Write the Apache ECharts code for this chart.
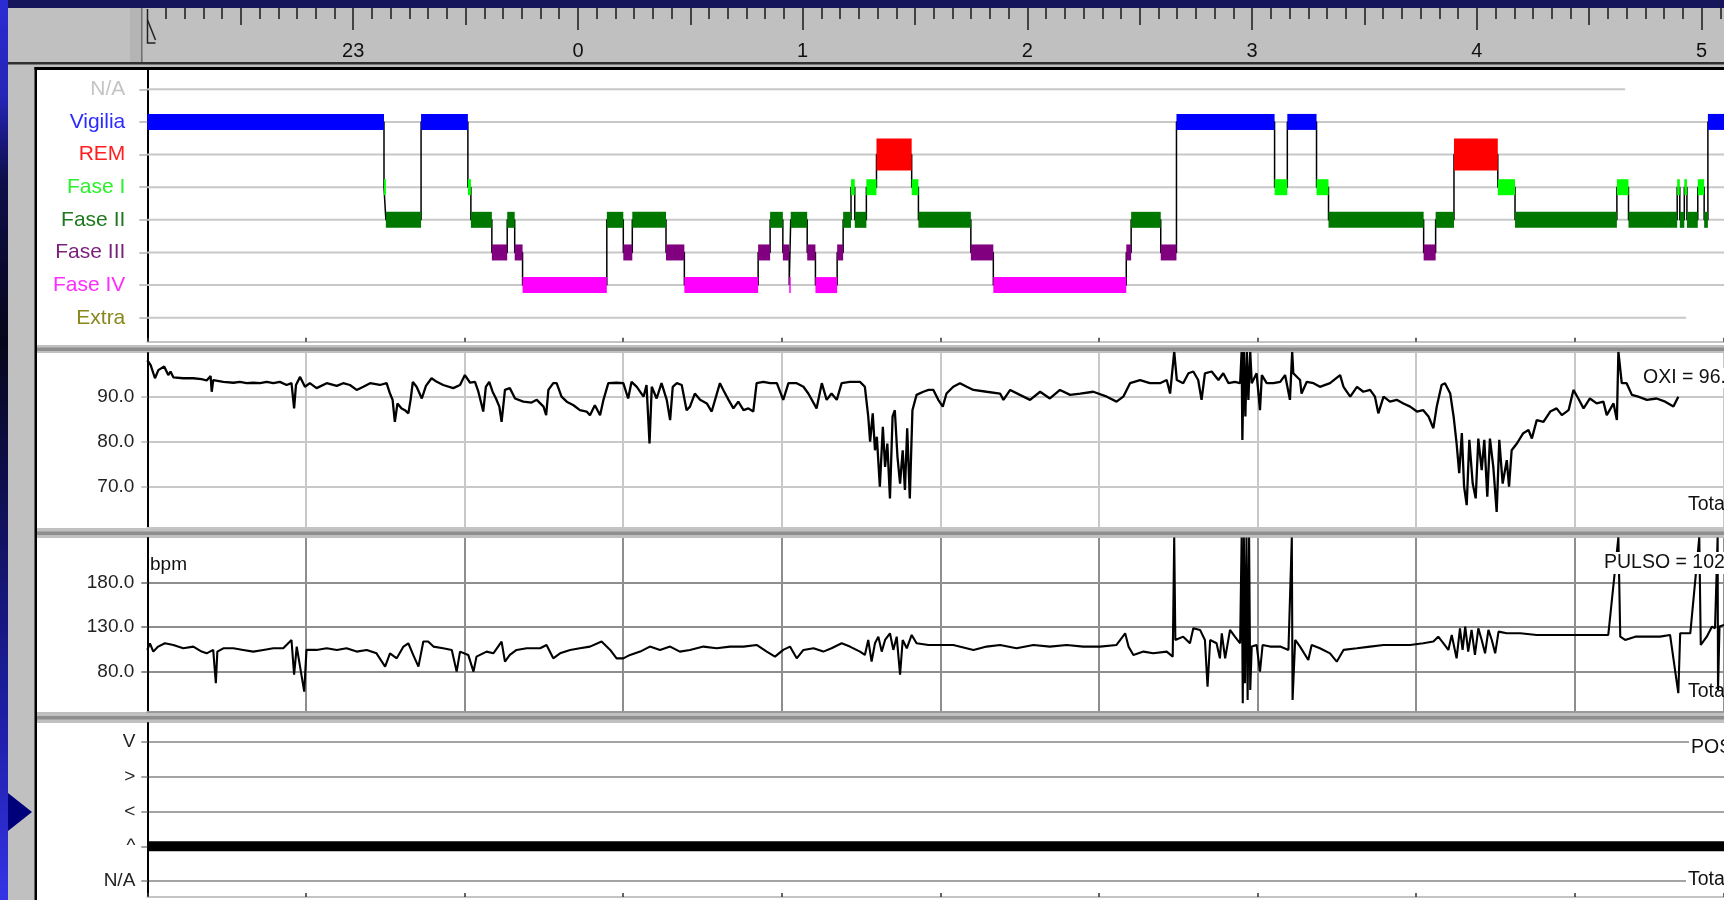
<!DOCTYPE html>
<html>
<head>
<meta charset="utf-8">
<title>Hipnograma</title>
<script src="https://cdn.jsdelivr.net/npm/echarts@6.0.0/dist/echarts.min.js"></script>
<style>
  html, body { margin: 0; padding: 0; background: #c0c0c0; overflow: hidden; }
  #chart { width: 1724px; height: 900px; }
</style>
</head>
<body>
<div id="chart"></div>
<script>
// eje de tiempo: minutos desde el inicio del registro (22:05)
const hourTicks = [55, 115, 175, 235, 295, 355, 415]
const hourLabels = ['23', '0', '1', '2', '3', '4', '5']

const hypnoStages = ['N/A', 'Vigilia', 'REM', 'Fase I', 'Fase II', 'Fase III', 'Fase IV', 'Extra']
// [inicio, fin, fase]
const hypnoSegments = [
  [0, 63.2, 1], [63.2, 63.7, 3], [63.7, 73.1, 4], [73.1, 85.6, 1], [85.6, 86.4, 3],
  [86.4, 92.0, 4], [92.0, 96.1, 5], [96.1, 98.1, 4], [98.1, 100.2, 5], [100.2, 122.7, 6],
  [122.7, 127.1, 4], [127.1, 129.5, 5], [129.5, 138.5, 4], [138.5, 143.4, 5], [143.4, 163.1, 6],
  [163.1, 166.3, 5], [166.3, 169.7, 4], [169.7, 171.4, 5], [171.4, 171.8, 6], [171.8, 176.2, 4],
  [176.2, 178.4, 5], [178.4, 184.2, 6], [184.2, 185.8, 5], [185.8, 187.9, 4], [187.9, 188.9, 3],
  [188.9, 192.0, 4], [192.0, 194.7, 3], [194.7, 204.1, 2], [204.1, 205.9, 3], [205.9, 219.9, 4],
  [219.9, 225.9, 5], [225.9, 261.4, 6], [261.4, 262.7, 5], [262.7, 270.6, 4], [270.6, 274.8, 5],
  [274.8, 301.0, 1], [301.0, 304.4, 3], [304.4, 312.2, 1], [312.2, 315.4, 3], [315.4, 340.8, 4],
  [340.8, 344.0, 5], [344.0, 348.9, 4], [348.9, 360.6, 2], [360.6, 365.2, 3], [365.2, 392.4, 4],
  [392.4, 395.5, 3], [395.5, 408.5, 4], [408.5, 409.2, 3], [409.2, 410.4, 4], [410.4, 411.1, 3],
  [411.1, 414.0, 4], [414.0, 415.7, 3], [415.7, 416.7, 4], [416.7, 421, 1]
]
const hypnoRowEnds = [394.6, 421, 421, 421, 421, 421, 421, 410.9]

const oxiTicks = [70, 80, 90]
const oxiData = [
  [0.0, 98.1], [0.9, 97.0], [2.05, 94.1], [2.95, 95.9], [4.5, 96.7], [5.6, 94.8], [6.2, 95.6], [6.95, 94.3],
  [9.6, 94.1], [12.3, 94.1], [14.5, 93.9], [15.85, 93.6], [16.9, 94.6], [17.2, 91.1], [17.6, 93.7], [20.3, 93.3],
  [23.0, 93.1], [24.75, 93.3], [26.5, 93.0], [28.3, 93.1], [30.1, 93.0], [31.9, 93.3], [33.65, 93.0], [35.4, 93.3],
  [37.2, 92.6], [38.5, 93.0], [39.2, 87.4], [39.7, 92.6], [40.8, 94.4], [42.1, 92.2], [43.4, 93.0], [45.2, 91.9],
  [47.9, 93.0], [50.6, 92.4], [52.3, 93.0], [54.1, 92.6], [55.9, 91.5], [57.7, 92.2], [59.5, 93.0], [62.1, 92.6],
  [63.9, 93.0], [64.8, 90.7], [65.5, 89.3], [66.1, 84.4], [66.8, 88.5], [67.9, 87.4], [68.8, 87.0], [69.7, 86.3],
  [70.3, 89.3], [70.9, 93.3], [71.9, 92.2], [73.3, 89.6], [74.4, 92.4], [75.9, 94.1], [77.3, 93.3], [79.0, 92.6],
  [81.7, 91.9], [83.5, 92.6], [84.8, 94.8], [86.2, 93.1], [87.5, 93.3], [88.4, 91.1], [89.3, 88.1], [89.7, 86.7],
  [90.4, 92.2], [91.3, 93.3], [92.2, 91.1], [93.1, 89.6], [94.0, 87.8], [94.6, 84.4], [95.5, 91.5], [96.8, 91.9],
  [98.2, 89.6], [100.4, 88.9], [102.6, 88.7], [104.0, 89.3], [105.8, 87.8], [106.5, 85.9], [107.1, 91.5], [108.4, 93.0],
  [109.3, 93.0], [110.6, 90.0], [112.0, 88.9], [113.8, 88.1], [115.5, 87.0], [117.3, 86.7], [118.2, 85.9], [119.5, 88.1],
  [120.9, 85.9], [121.8, 89.3], [123.1, 93.0], [125.3, 93.1], [127.1, 93.0], [128.4, 89.6], [129.3, 93.3], [130.7, 92.2],
  [132.5, 90.0], [133.3, 92.6], [134.1, 79.6], [134.7, 92.2], [136.0, 89.6], [137.3, 93.0], [138.7, 89.3], [139.6, 84.8],
  [140.3, 92.2], [141.4, 93.0], [142.7, 92.6], [144.0, 87.0], [144.9, 87.8], [146.2, 90.7], [147.6, 89.3], [149.4, 88.5],
  [150.7, 86.7], [151.6, 89.3], [152.9, 93.0], [153.8, 91.5], [155.2, 89.3], [156.5, 87.4], [157.8, 88.9], [159.2, 87.0],
  [160.5, 87.4], [161.8, 86.7], [162.7, 93.0], [164.5, 93.3], [166.3, 93.0], [168.1, 93.0], [169.8, 89.3], [171.2, 93.0],
  [173.4, 93.0], [175.2, 92.2], [176.5, 90.7], [178.7, 87.4], [180.1, 93.0], [181.4, 89.3], [182.7, 90.7], [184.1, 89.3],
  [185.4, 93.0], [187.6, 93.3], [190.3, 93.3], [191.6, 92.2], [192.5, 85.6], [193.0, 80.0], [193.7, 86.3], [194.3, 78.1],
  [194.8, 81.1], [195.6, 70.0], [196.4, 83.3], [197.0, 74.4], [197.6, 79.6], [198.3, 67.4], [199.0, 85.6], [199.6, 87.0],
  [200.3, 76.7], [201.0, 70.7], [201.7, 78.1], [202.3, 69.3], [202.9, 83.0], [203.6, 67.4], [204.3, 87.0], [205.4, 90.4],
  [207.2, 91.1], [208.6, 91.5], [209.9, 91.5], [211.2, 89.3], [212.4, 87.8], [213.4, 90.7], [215.2, 92.2], [217.0, 93.0],
  [218.8, 92.2], [220.6, 91.5], [224.1, 91.1], [227.7, 90.7], [228.6, 89.3], [230.4, 91.5], [233.0, 90.4], [235.7, 89.3],
  [238.4, 91.1], [241.0, 89.6], [243.7, 91.5], [246.4, 90.4], [249.1, 90.7], [252.6, 91.1], [256.2, 90.0], [258.8, 88.9],
  [260.6, 90.0], [262.4, 93.0], [265.1, 93.7], [267.7, 93.0], [270.4, 93.0], [272.2, 93.7], [273.1, 90.7], [274.2, 100],
  [274.9, 93.7], [276.6, 93.0], [278.0, 95.2], [279.3, 95.6], [280.6, 93.7], [281.5, 89.3], [282.4, 95.2], [284.2, 95.6],
  [286.0, 93.7], [287.3, 95.2], [288.7, 93.0], [290.4, 93.3], [291.8, 93.0], [292.2, 100], [292.4, 80.4], [292.8, 100],
  [293.2, 85.6], [293.6, 100], [294.0, 89.3], [294.5, 100], [294.9, 93.0], [296.2, 95.2], [297.1, 87.0], [297.6, 94.8],
  [298.9, 93.0], [300.7, 93.0], [302.5, 93.3], [303.8, 94.8], [305.1, 89.3], [305.7, 100], [306.0, 95.2], [307.8, 93.7],
  [308.2, 90.7], [309.6, 93.3], [311.4, 93.0], [313.1, 92.2], [315.8, 93.0], [318.5, 94.8], [319.4, 92.2], [321.2, 90.0],
  [323.0, 92.2], [324.7, 91.1], [326.5, 91.5], [327.8, 90.0], [328.7, 86.3], [330.1, 90.0], [331.8, 88.9], [333.6, 89.3],
  [335.4, 88.5], [337.2, 87.8], [339.0, 86.7], [340.7, 87.0], [342.1, 85.6], [343.4, 83.0], [344.3, 87.8], [345.6, 92.6],
  [346.5, 93.0], [347.9, 90.7], [348.8, 85.6], [349.6, 79.6], [350.3, 73.0], [351.0, 81.9], [351.6, 70.0], [352.3, 65.9],
  [353.0, 80.4], [353.9, 70.7], [354.7, 67.4], [355.4, 80.7], [356.3, 73.7], [357.0, 80.4], [357.8, 67.8], [358.5, 80.7],
  [359.4, 74.4], [360.3, 64.4], [361.0, 80.4], [361.9, 70.7], [363.0, 75.9], [363.6, 70.0], [364.3, 78.1], [365.7, 79.6],
  [367.4, 81.9], [368.8, 82.6], [369.7, 80.7], [371.0, 84.8], [372.8, 84.4], [374.6, 86.7], [376.3, 87.4], [377.7, 85.9],
  [379.5, 87.0], [380.8, 91.5], [382.1, 89.6], [383.5, 87.4], [385.2, 89.6], [387.0, 88.5], [388.8, 88.9], [389.7, 85.9],
  [391.5, 88.5], [392.4, 84.8], [392.8, 100], [393.7, 93.0], [395.0, 93.0], [396.4, 90.4], [398.1, 90.0], [400.4, 89.3],
  [403.0, 89.6], [405.3, 88.9], [407.5, 87.8], [408.8, 90.0]
]

const pulsoTicks = [80, 130, 180]
const pulsoData = [
  [0.0, 104.6], [0.7, 112.0], [1.6, 102.7], [2.9, 108.3], [4.7, 112.0], [6.95, 110.1], [9.6, 106.4], [12.3, 108.3],
  [14.5, 102.7], [15.85, 100.8], [17.6, 104.6], [18.3, 67.4], [18.7, 102.7], [20.3, 106.4], [23.0, 106.4], [25.6, 104.6],
  [28.3, 102.7], [31.0, 104.6], [33.65, 106.4], [36.3, 106.4], [38.5, 115.7], [39.2, 77.0], [39.9, 108.3], [41.9, 58.1],
  [42.5, 104.6], [45.2, 104.6], [47.9, 106.4], [50.6, 104.6], [53.2, 106.4], [55.9, 102.7], [58.6, 104.6], [61.2, 100.8],
  [63.5, 86.0], [64.8, 100.8], [66.6, 95.2], [68.4, 108.3], [69.7, 112.0], [71.0, 99.0], [72.4, 86.0], [73.7, 113.9],
  [75.0, 113.9], [76.4, 108.3], [79.0, 106.4], [81.3, 104.6], [82.6, 80.4], [83.5, 102.7], [85.7, 99.0], [87.1, 80.4],
  [87.9, 97.1], [90.6, 102.7], [92.4, 100.8], [94.6, 113.9], [95.5, 91.5], [96.8, 99.0], [98.6, 104.6], [101.3, 106.4],
  [104.9, 106.4], [106.6, 110.1], [108.4, 95.2], [110.2, 100.8], [112.9, 104.6], [115.5, 106.4], [118.2, 108.3], [121.3, 113.9],
  [123.6, 104.6], [125.3, 95.2], [127.1, 95.2], [128.9, 99.0], [131.6, 102.7], [134.2, 108.3], [136.9, 104.6], [139.6, 108.3],
  [142.2, 102.7], [144.9, 104.6], [148.5, 108.3], [152.0, 106.4], [155.6, 108.3], [159.2, 108.3], [162.7, 110.1], [165.4, 102.7],
  [167.6, 97.1], [169.8, 104.6], [171.6, 108.3], [173.4, 95.2], [175.2, 104.6], [177.9, 106.4], [180.5, 102.7], [182.7, 106.4],
  [185.4, 112.0], [187.6, 108.3], [190.3, 102.7], [191.6, 99.0], [192.5, 115.7], [193.4, 91.5], [194.3, 112.0], [195.2, 119.4],
  [196.1, 102.7], [197.0, 115.7], [198.3, 123.1], [199.2, 104.6], [200.1, 119.4], [201.0, 77.0], [201.7, 115.7], [202.8, 106.4],
  [204.1, 121.3], [205.4, 112.0], [208.6, 110.1], [211.7, 110.1], [215.2, 110.1], [220.6, 104.6], [224.1, 108.3], [227.7, 110.1],
  [232.1, 106.4], [236.6, 110.1], [241.0, 108.3], [245.5, 110.1], [249.9, 108.3], [254.4, 108.3], [258.8, 110.1], [261.1, 123.1],
  [262.0, 108.3], [263.3, 99.0], [266.0, 102.7], [268.6, 100.8], [272.2, 102.7], [273.8, 97.1], [274.2, 230], [274.5, 115.7],
  [276.6, 119.4], [278.4, 112.0], [279.3, 128.7], [281.1, 126.9], [282.4, 115.7], [283.1, 63.7], [283.8, 115.7], [285.5, 112.0],
  [286.4, 95.2], [286.9, 123.1], [287.8, 95.2], [289.1, 126.9], [290.4, 119.4], [291.8, 112.0], [292.2, 230], [292.5, 45.1],
  [292.8, 230], [293.1, 67.4], [293.5, 230], [293.8, 48.8], [294.2, 230], [294.5, 60.0], [294.9, 108.3], [296.2, 110.1],
  [297.1, 80.4], [297.8, 110.1], [299.8, 108.3], [302.5, 108.3], [304.7, 104.6], [305.6, 230], [305.8, 48.8], [306.5, 115.7],
  [307.8, 108.3], [310.0, 93.4], [310.9, 110.1], [313.1, 106.4], [315.8, 100.8], [317.6, 91.5], [319.4, 104.6], [323.0, 106.4],
  [326.5, 108.3], [330.1, 110.1], [333.6, 110.1], [337.2, 110.1], [340.7, 112.0], [343.4, 113.9], [344.7, 119.4], [346.1, 112.0],
  [347.4, 104.6], [348.3, 121.3], [349.6, 95.2], [350.5, 128.7], [351.2, 104.6], [351.9, 130.6], [352.7, 102.7], [353.6, 126.9],
  [354.5, 99.0], [355.4, 128.7], [356.3, 115.7], [357.2, 100.8], [358.1, 126.9], [359.0, 115.7], [359.9, 100.8], [360.8, 125.0],
  [363.0, 123.1], [366.6, 123.1], [371.0, 121.3], [375.4, 121.3], [380.8, 121.3], [386.1, 121.3], [390.1, 121.3], [392.8, 230],
  [393.3, 119.4], [394.6, 115.7], [397.3, 119.4], [400.4, 119.4], [403.9, 119.4], [406.6, 121.3], [408.8, 56.3], [409.3, 123.1],
  [412.0, 123.1], [414.4, 230], [414.8, 110.1], [416.4, 119.4], [417.8, 130.6], [418.6, 128.7], [419.3, 230], [419.4, 60.0],
  [419.8, 130.6], [421, 132.4]
]

const posStages = ['V', '>', '<', '^', 'N/A']
const posData = [[0, 3], [421, 3]]

const T_MAX = 421
const DIVISION = 42.35
const FONT = "'Liberation Sans', Arial, sans-serif"

const stageFill = ['#c0c0c0', '#0000ff', '#ff0000', '#00ff00', '#007800', '#800080', '#ff00ff', '#808000']
const stageText = ['#c4c4c4', '#2b2bff', '#ff1f1f', '#2cf02c', '#1e781e', '#7a1f7a', '#ff2bff', '#87871e']

const halfHourTicks = hourTicks.map(t => t - 30)
const fiveMinTicks = []
for (let t = 5; t <= 420; t += 5) fiveMinTicks.push(t)

const hypnoSteps = hypnoSegments.map(s => [s[0], s[2]])
const lastSeg = hypnoSegments[hypnoSegments.length - 1]
hypnoSteps.push([lastSeg[1], lastSeg[2]])
const hypnoRows = hypnoRowEnds.map((end, i) => [0, end, i])

const stageRich = {}
hypnoStages.forEach((s, i) => {
  stageRich['s' + i] = { color: stageText[i], fontFamily: FONT, fontSize: 21 }
})

const chart = echarts.init(document.getElementById('chart'))

// ejes de la regla superior
const rulerAxis = (ticks, len, labels) => ({
  type: 'value', gridIndex: 0, position: 'top', min: -1, max: T_MAX,
  axisLine: { show: false, onZero: false },
  splitLine: { show: false },
  axisTick: { show: true, inside: true, customValues: ticks, length: len, lineStyle: { color: '#1a1a1a', width: 1.5 } },
  axisLabel: labels
    ? { show: true, inside: true, customValues: ticks, margin: 33, formatter: v => hourLabels[ticks.indexOf(v)],
        fontFamily: FONT, fontSize: 20, color: '#111' }
    : { show: false }
})

const timeAxis = (gridIndex, extra) => Object.assign({
  type: 'value', gridIndex, position: 'bottom', min: 0, max: T_MAX, interval: DIVISION,
  axisLabel: { show: false },
  axisLine: { show: true, onZero: false, lineStyle: { color: '#c4c4c4', width: 2 } },
  axisTick: { show: false },
  splitLine: { show: false }
}, extra)

const valueAxis = (gridIndex, min, max, ticks, gridColor, extra) => Object.assign({
  type: 'value', gridIndex, min, max,
  axisLine: { show: true, onZero: false, lineStyle: { color: '#000', width: 2 } },
  axisTick: { show: true, customValues: ticks, length: 6, lineStyle: { color: gridColor, width: 2 } },
  axisLabel: { customValues: ticks, margin: 13, formatter: v => v.toFixed(1), fontFamily: FONT, fontSize: 19, color: '#222' },
  splitLine: { show: true, lineStyle: { color: gridColor, width: 2 } }
}, extra)

const text = (str, x, y, extra) => ({
  type: 'text', x, y, z: 50,
  style: Object.assign({ text: str, fill: '#111', fontFamily: FONT, fontSize: 19.5, align: 'left', verticalAlign: 'middle' }, extra)
})

chart.setOption({
  animation: false,
  backgroundColor: '#c0c0c0',
  grid: [
    { left: 143.5, right: 0, top: 8, height: 54, outerBoundsMode: 'none' },
    { left: 147.3, right: 0, top: 70, height: 271.7, outerBoundsMode: 'none' },
    { left: 147.3, right: 0, top: 353, height: 175, outerBoundsMode: 'none' },
    { left: 147.3, right: 0, top: 538, height: 173.7, outerBoundsMode: 'none' },
    { left: 147.3, right: 0, top: 723, height: 174, outerBoundsMode: 'none' }
  ],
  xAxis: [
    rulerAxis(hourTicks, 22, true),
    rulerAxis(halfHourTicks, 17, false),
    rulerAxis(fiveMinTicks, 11, false),
    timeAxis(1, { axisTick: { show: true, inside: true, length: 4, lineStyle: { color: '#333', width: 1.5 } } }),
    timeAxis(2, { splitLine: { show: true, lineStyle: { color: '#c8c8c8', width: 2 } } }),
    timeAxis(3, { axisLine: { show: true, onZero: false, lineStyle: { color: '#9a9a9a', width: 2 } },
                  splitLine: { show: true, lineStyle: { color: '#8e8e8e', width: 2 } } }),
    timeAxis(4, { axisTick: { show: true, inside: true, length: 4, lineStyle: { color: '#333', width: 1.5 } } })
  ],
  yAxis: [
    { type: 'value', gridIndex: 0, show: false, min: 0, max: 1, axisLine: { onZero: false } },
    {
      type: 'value', gridIndex: 1, inverse: true, min: -0.5915, max: 7.735,
      axisLine: { show: true, onZero: false, lineStyle: { color: '#000', width: 2 } },
      axisTick: { show: true, customValues: hypnoStages.map((_, i) => i), length: 8, lineStyle: { color: '#c4c4c4', width: 2 } },
      axisLabel: { customValues: hypnoStages.map((_, i) => i), margin: 22, formatter: v => `{s${v}|${hypnoStages[v]}}`, rich: stageRich },
      splitLine: { show: false }
    },
    valueAxis(2, 60.82, 99.71, oxiTicks, '#c8c8c8'),
    valueAxis(3, 35.7, 229.4, pulsoTicks, '#8e8e8e'),
    valueAxis(4, -0.547, 4.46, posStages.map((_, i) => i), '#a4a4a4', {
      inverse: true,
      axisLabel: { customValues: posStages.map((_, i) => i), margin: 12, formatter: v => posStages[v], fontFamily: FONT, fontSize: 19, color: '#222' }
    })
  ],
  series: [
    {
      type: 'custom', xAxisIndex: 3, yAxisIndex: 1, data: hypnoRows, encode: { x: [0, 1], y: 2 }, silent: true, z: 1,
      renderItem: (params, api) => {
        const a = api.coord([api.value(0), api.value(2)])
        const b = api.coord([api.value(1), api.value(2)])
        return { type: 'line', shape: { x1: a[0], y1: a[1], x2: b[0], y2: b[1] }, style: { stroke: '#c8c8c8', lineWidth: 2 } }
      }
    },
    {
      type: 'line', xAxisIndex: 3, yAxisIndex: 1, data: hypnoSteps, step: 'end', symbol: 'none', silent: true, z: 3,
      lineStyle: { color: '#000', width: 1.5 }
    },
    {
      type: 'custom', xAxisIndex: 3, yAxisIndex: 1, data: hypnoSegments, encode: { x: [0, 1], y: 2 }, silent: true, z: 4,
      renderItem: (params, api) => {
        const stage = api.value(2)
        const p0 = api.coord([api.value(0), stage])
        const p1 = api.coord([api.value(1), stage])
        const h = stage === 2 ? 32 : 16
        return {
          type: 'rect',
          shape: { x: p0[0], y: p0[1] - h / 2, width: Math.max(p1[0] - p0[0], 1.5), height: h },
          style: { fill: stageFill[stage] }
        }
      }
    },
    {
      type: 'line', xAxisIndex: 4, yAxisIndex: 2, data: oxiData, symbol: 'none', silent: true, z: 3,
      lineStyle: { color: '#000', width: 2.3 }
    },
    {
      type: 'line', xAxisIndex: 5, yAxisIndex: 3, data: pulsoData, symbol: 'none', silent: true, z: 3,
      lineStyle: { color: '#000', width: 2.1 }
    },
    {
      type: 'line', xAxisIndex: 6, yAxisIndex: 4, data: posData, symbol: 'none', silent: true, z: 3,
      lineStyle: { color: '#000', width: 10, cap: 'butt' }
    }
  ],
  graphic: [
    // fondo de la diapositiva
    {
      type: 'rect', z: -10, shape: { x: 0, y: 0, width: 8, height: 900 },
      style: {
        fill: new echarts.graphic.LinearGradient(0, 0, 0, 1, [
          { offset: 0, color: '#2b2bd4' }, { offset: 0.11, color: '#2424b4' }, { offset: 0.2, color: '#0e0e4a' },
          { offset: 0.38, color: '#06061a' }, { offset: 0.8, color: '#1e1ea6' }, { offset: 1, color: '#3434e6' }
        ])
      }
    },
    { type: 'rect', z: -10, shape: { x: 8, y: 0, width: 1716, height: 8 }, style: { fill: '#15155c' } },
    // cabecera
    { type: 'rect', z: -10, shape: { x: 130, y: 8, width: 13, height: 54 }, style: { fill: '#b4b4b4' } },
    { type: 'rect', z: -10, shape: { x: 141, y: 8, width: 1.5, height: 54 }, style: { fill: '#707070' } },
    { type: 'rect', z: -10, shape: { x: 8, y: 62, width: 1716, height: 2.5 }, style: { fill: '#303030' } },
    // paneles
    { type: 'rect', z: -10, shape: { x: 37, y: 70, width: 1687, height: 275 }, style: { fill: '#fff' } },
    { type: 'rect', z: -10, shape: { x: 37, y: 353, width: 1687, height: 175 }, style: { fill: '#fff' } },
    { type: 'rect', z: -10, shape: { x: 37, y: 538, width: 1687, height: 174 }, style: { fill: '#fff' } },
    { type: 'rect', z: -10, shape: { x: 37, y: 723, width: 1687, height: 177 }, style: { fill: '#fff' } },
    { type: 'rect', z: -10, shape: { x: 37, y: 347.5, width: 1687, height: 3.5 }, style: { fill: '#8e8e8e' } },
    { type: 'rect', z: -10, shape: { x: 37, y: 531.5, width: 1687, height: 3.5 }, style: { fill: '#8e8e8e' } },
    { type: 'rect', z: -10, shape: { x: 37, y: 716, width: 1687, height: 3.5 }, style: { fill: '#8e8e8e' } },
    { type: 'rect', z: -10, shape: { x: 34.5, y: 67, width: 1690, height: 3 }, style: { fill: '#000' } },
    { type: 'rect', z: -10, shape: { x: 34.5, y: 67, width: 2.5, height: 833 }, style: { fill: '#000' } },
    // marcadores
    { type: 'polygon', z: 20, shape: { points: [[8, 793], [32, 812], [8, 831]] }, style: { fill: '#00007a' } },
    { type: 'polyline', z: 20, shape: { points: [[147.5, 9], [147.5, 43], [155.5, 43]] }, style: { stroke: '#222', lineWidth: 1.5, fill: null } },
    { type: 'line', z: 20, shape: { x1: 147.5, y1: 20, x2: 155.5, y2: 40 }, style: { stroke: '#222', lineWidth: 1.5 } },
    // textos
    text('OXI = 96.0', 1641, 378, { backgroundColor: '#fff', padding: [0, 2, 0, 2] }),
    text('Total', 1688, 505),
    text('bpm', 150, 565, { fontSize: 19 }),
    text('PULSO = 102.0', 1602, 563, { backgroundColor: '#fff', padding: [1, 2, 1, 2] }),
    text('Total', 1688, 692),
    text('POS', 1689, 748, { backgroundColor: '#fff', padding: [2, 4, 2, 2] }),
    text('Total', 1686, 880, { backgroundColor: '#fff', padding: [2, 4, 2, 2] })
  ]
})
</script>
</body>
</html>
